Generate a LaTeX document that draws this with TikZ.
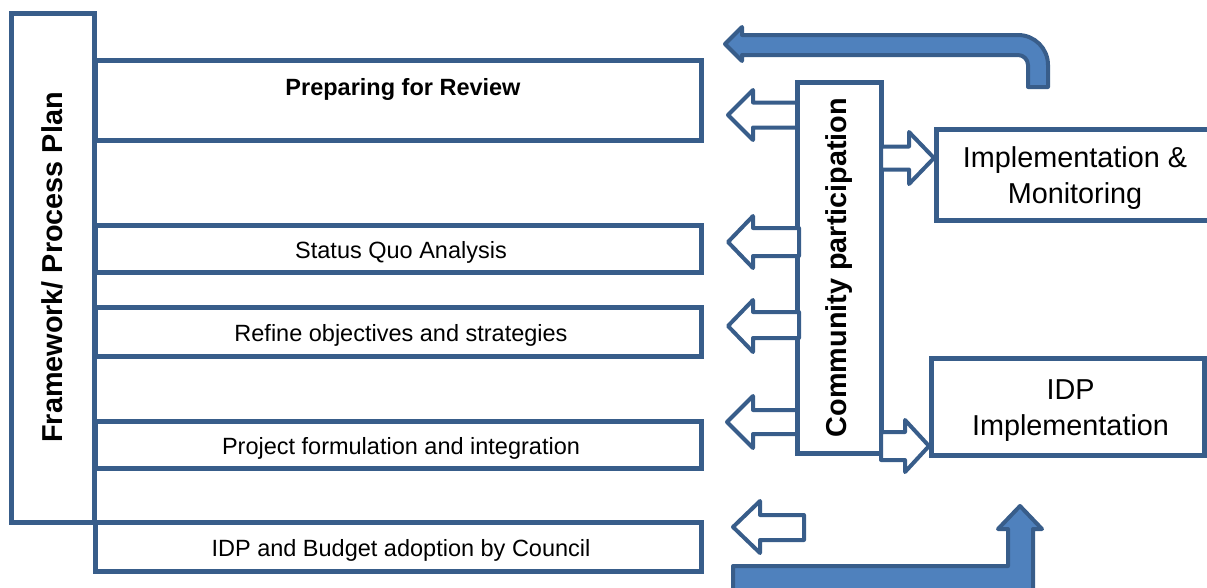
\documentclass[tikz,border=0pt]{standalone}
\usepackage{fontspec}
\setmainfont{Liberation Sans}
\definecolor{edge}{HTML}{385D8A}
\definecolor{bluefill}{HTML}{4F81BD}
\begin{document}
\begin{tikzpicture}[x=1pt,y=-1pt,
  box/.style={draw=edge, line width=5pt, fill=white, inner sep=0pt, outer sep=0pt, anchor=north west},
  hollowarrow/.style={draw=edge, line width=4pt, fill=white, line join=round},
  bigarrow/.style={draw=edge, line width=4pt, fill=bluefill, line join=round},
  stagetext/.style={font=\fontsize{23.5}{28}\selectfont, xshift=3pt, yshift=-4pt},
  stagehead/.style={font=\fontsize{23.5}{28}\selectfont\bfseries},
  sidetext/.style={font=\fontsize{28.8}{36}\selectfont, align=center, yshift=-4pt},
  vertical/.style={font=\fontsize{28.8}{35}\selectfont\bfseries, rotate=90}]
\clip (0,0) rectangle (1207,587);

% framework column
\node[box, minimum width=83pt, minimum height=509pt] (frame) at (11,13) {};
\node[vertical] (frametext) at (frame.center) {Framework/ Process Plan};

% process stages
\node[box, minimum width=606pt, minimum height=80pt] (prep) at (95,60) {};
\node[stagehead] (preptext) at (403,89) {Preparing for Review};
\node[box, minimum width=606pt, minimum height=47pt] (status) at (95,225) {};
\node[stagetext] (statustext) at (status.center) {Status Quo Analysis};
\node[box, minimum width=606pt, minimum height=49pt] (refine) at (95,307) {};
\node[stagetext] (refinetext) at (refine.center) {Refine objectives and strategies};
\node[box, minimum width=606pt, minimum height=47pt] (project) at (95,421) {};
\node[stagetext] (projecttext) at (project.center) {Project formulation and integration};
\node[box, minimum width=606pt, minimum height=49pt] (budget) at (95,522) {};
\node[stagetext] (budgettext) at (budget.center) {IDP and Budget adoption by Council};

% community participation
\node[box, minimum width=84pt, minimum height=371pt] (comm) at (797,82) {};
\node[vertical] (commtext) at (comm.center) {Community participation};

% outcome boxes
\node[box, minimum width=280pt, minimum height=91pt] (monitor) at (936,129) {};
\node[sidetext] (monitortext) at (1075,174.5) {Implementation \&\\Monitoring};
\node[box, minimum width=273pt, minimum height=97pt] (idpimpl) at (931,358) {};
\node[sidetext, xshift=3pt] (idpimpltext) at (idpimpl.center) {IDP\\Implementation};

% hollow arrows out of the participation column
\draw[hollowarrow] (797,102.5) -- (753,102.5) -- (753,90) -- (728,115) -- (753,140) -- (753,127.5) -- (797,127.5) -- cycle;
\draw[hollowarrow] (799,228) -- (753,228) -- (753,216) -- (728,242) -- (753,268) -- (753,256) -- (799,256) -- cycle;
\draw[hollowarrow] (799,312) -- (753,312) -- (753,300) -- (728,326) -- (753,352) -- (753,338) -- (799,338) -- cycle;
\draw[hollowarrow] (797,410) -- (753,410) -- (753,396) -- (727,422) -- (753,448) -- (753,434) -- (797,434) -- cycle;
\draw[hollowarrow] (804,515) -- (760,515) -- (760,501) -- (733,527) -- (760,553) -- (760,540) -- (804,540) -- cycle;
\draw[hollowarrow] (comm.east |- 0,146.5) -- (909,146.5) -- (909,132) -- (934,158) -- (909,184) -- (909,169.5) -- (comm.east |- 0,169.5) -- cycle;
\draw[hollowarrow] (comm.east |- 0,432) -- (905,432) -- (905,420) -- (929,446) -- (905,472) -- (905,460) -- (comm.east |- 0,460) -- cycle;

% bent feedback arrows
\draw[bigarrow] (1028,87) -- (1028,65) .. controls (1028,59.5) and (1023.5,55) .. (1018,55)
  -- (742,55) -- (742,61) -- (725,44) -- (742,27) -- (742,35) -- (1018,35)
  .. controls (1034.6,35) and (1048,48.4) .. (1048,65) -- (1048,87) -- cycle;
\draw[bigarrow] (733,566) -- (1008,566) -- (1008,529) -- (998,529) -- (1020,506) -- (1042,529)
  -- (1033,529) -- (1033,596) -- (733,596) -- cycle;
\end{tikzpicture}
\end{document}
